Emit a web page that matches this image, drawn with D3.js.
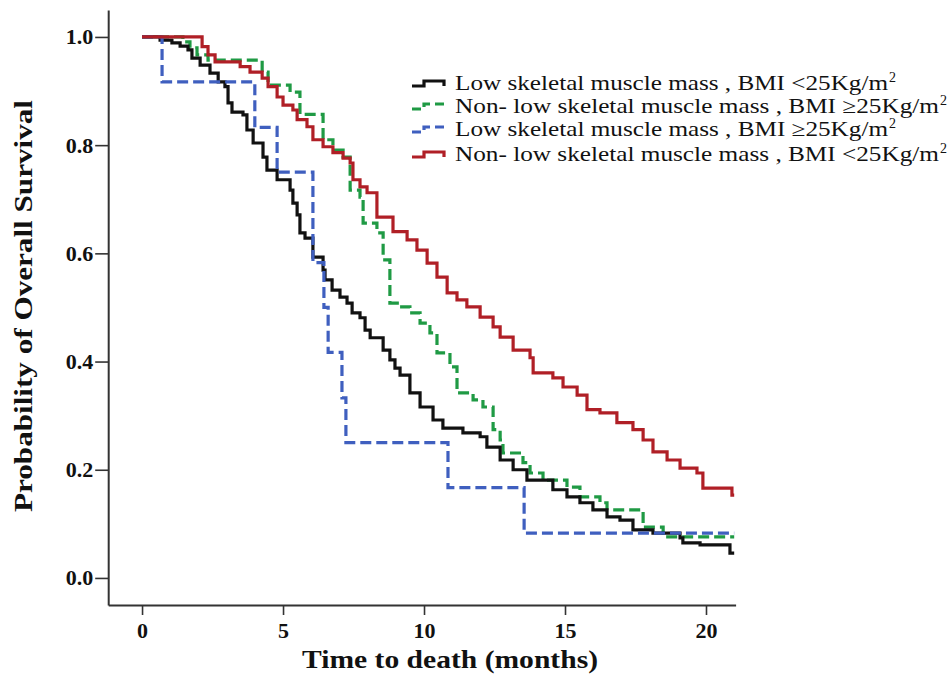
<!DOCTYPE html>
<html><head><meta charset="utf-8">
<script src="https://cdn.jsdelivr.net/npm/d3@7/dist/d3.min.js"></script>
<style>body{margin:0;background:#fff}</style>
</head><body>
<svg id="chart" width="948" height="675"></svg>
<script>
// ---------- data ----------
const xTicks = [0, 5, 10, 15, 20];
const yTicks = [0.0, 0.2, 0.4, 0.6, 0.8, 1.0];
const endTime = 21;

const seriesNames = [
  ["Low skeletal muscle mass , BMI <25Kg/m", "2"],
  ["Non- low skeletal muscle mass , BMI \u226525Kg/m", "2"],
  ["Low skeletal muscle mass , BMI \u226525Kg/m", "2"],
  ["Non- low skeletal muscle mass , BMI <25Kg/m", "2"]
];
const seriesColors = ["#111111", "#1f9a44", "#3f5fbf", "#b01f26"];
const seriesDashed = [false, true, true, false];

const blackTimes = [0.64,1.06,1.35,1.63,1.77,2.06,2.41,2.70,2.94,3.05,3.19,3.58,3.72,3.94,4.29,4.43,4.79,5.25,5.35,5.50,5.60,5.78,6.06,6.42,6.49,6.74,7.02,7.27,7.45,7.73,7.91,8.09,8.55,8.79,8.97,9.15,9.50,9.86,10.32,10.67,11.38,11.99,12.23,12.70,13.16,13.65,14.57,15.07,15.53,15.99,16.49,16.95,17.41,18.12,19.08,19.18,19.79,20.85];
const blackSurv  = [0.994,0.989,0.983,0.976,0.961,0.948,0.933,0.917,0.908,0.878,0.861,0.856,0.828,0.804,0.778,0.754,0.736,0.717,0.693,0.671,0.638,0.628,0.593,0.569,0.551,0.532,0.519,0.508,0.490,0.481,0.458,0.444,0.421,0.403,0.388,0.375,0.342,0.316,0.292,0.277,0.268,0.261,0.242,0.218,0.200,0.181,0.163,0.150,0.139,0.126,0.113,0.107,0.089,0.083,0.074,0.065,0.061,0.046];

const greenTimes = [1.45,1.70,1.95,2.34,4.26,4.47,5.25,5.60,6.42,6.77,7.13,7.38,7.73,7.84,8.33,8.55,8.79,9.15,9.50,9.86,10.21,10.46,10.92,11.17,11.74,12.09,12.45,12.70,12.80,13.51,13.76,14.22,15.07,15.53,16.24,16.49,17.77,18.48];
const greenSurv  = [0.991,0.980,0.967,0.957,0.935,0.911,0.898,0.857,0.810,0.791,0.778,0.717,0.704,0.656,0.638,0.588,0.508,0.501,0.490,0.471,0.453,0.416,0.390,0.342,0.329,0.316,0.274,0.255,0.231,0.213,0.194,0.181,0.168,0.150,0.139,0.126,0.094,0.076];

const blueTimes = [0.71,4.00,4.79,6.06,6.45,6.60,7.09,7.23,10.85,13.55];
const blueSurv  = [0.917,0.833,0.750,0.583,0.500,0.417,0.333,0.250,0.167,0.083];

const redTimes = [2.13,2.34,2.59,3.48,3.83,4.26,4.47,4.79,5.00,5.35,5.50,5.85,6.06,6.42,6.77,7.13,7.38,7.48,7.73,7.98,8.33,8.90,9.40,9.75,10.11,10.46,10.82,11.17,11.52,11.99,12.45,12.70,13.16,13.76,13.87,14.57,14.93,15.43,15.78,16.24,16.84,17.41,17.77,18.12,18.62,19.08,19.68,19.89,20.92];
const redSurv  = [0.982,0.967,0.954,0.945,0.935,0.924,0.908,0.889,0.874,0.865,0.847,0.834,0.810,0.797,0.786,0.776,0.767,0.736,0.723,0.712,0.667,0.640,0.625,0.606,0.582,0.556,0.527,0.514,0.501,0.482,0.464,0.445,0.421,0.407,0.379,0.370,0.353,0.338,0.311,0.305,0.287,0.274,0.255,0.233,0.218,0.203,0.194,0.166,0.153];

const xTitle = "Time to death (months)";
const yTitle = "Probability of Overall Survival";

// ---------- drawing ----------
const svg = d3.select("#chart");
const serif = "'Liberation Serif','Times New Roman',serif";

const x = d3.scaleLinear().domain([-1.2, 21.05]).range([108.2, 735.6]);
const y = d3.scaleLinear().domain([-0.05, 1.05]).range([605, 9.9]);

function buildSeries(times, surv) {
  const pts = [[0, 1]];
  times.forEach((t, i) => pts.push([t, surv[i]]));
  pts.push([endTime, surv[surv.length - 1]]);
  return pts;
}
const allSeries = [
  buildSeries(blackTimes, blackSurv),
  buildSeries(greenTimes, greenSurv),
  buildSeries(blueTimes, blueSurv),
  buildSeries(redTimes, redSurv)
];

// axes
const xAxis = d3.axisBottom(x).tickValues(xTicks).tickSize(10).tickSizeOuter(0).tickPadding(7).tickFormat(d3.format("d"));
const yAxis = d3.axisLeft(y).tickValues(yTicks).tickSize(13).tickSizeOuter(0).tickPadding(2).tickFormat(d3.format(".1f"));

const gx = svg.append("g").attr("transform", "translate(0,605)").call(xAxis);
const gy = svg.append("g").attr("transform", "translate(108.2,0)").call(yAxis);
[gx, gy].forEach(g => {
  g.select(".domain").attr("stroke", "#333").attr("stroke-width", 2);
  g.selectAll(".tick line").attr("stroke", "#333").attr("stroke-width", 1.6);
  g.selectAll(".tick text").attr("font-family", serif).attr("font-weight", "bold")
    .attr("font-size", 22).attr("fill", "#111");
});

// curves
const line = d3.line().x(d => x(d[0])).y(d => y(d[1])).curve(d3.curveStepAfter);
const order = [1, 0, 2, 3];
order.forEach(i => {
  svg.append("path").datum(allSeries[i])
    .attr("d", line)
    .attr("fill", "none")
    .attr("stroke", seriesColors[i])
    .attr("stroke-width", 3.2)
    .attr("stroke-linejoin", "miter")
    .attr("stroke-dasharray", seriesDashed[i] ? "11,5" : null);
});

// titles
svg.append("text").attr("x", 450).attr("y", 668).attr("text-anchor", "middle")
  .attr("font-family", serif).attr("font-weight", "bold").attr("font-size", 25)
  .attr("fill", "#111").attr("textLength", 296).attr("lengthAdjust", "spacingAndGlyphs")
  .text(xTitle);
svg.append("text").attr("transform", "translate(32,306) rotate(-90)").attr("text-anchor", "middle")
  .attr("font-family", serif).attr("font-weight", "bold").attr("font-size", 26)
  .attr("fill", "#111").attr("textLength", 412).attr("lengthAdjust", "spacingAndGlyphs")
  .text(yTitle);

// legend
const legendBaselines = [90, 113, 136, 161];
const legendWidths = [433, 484, 433, 484];
const lg = svg.append("g");
seriesNames.forEach((nm, i) => {
  const b = legendBaselines[i];
  lg.append("path")
    .attr("d", `M412,${b - 4} H424 V${b - 9} H444 V${b - 4}`)
    .attr("fill", "none").attr("stroke", seriesColors[i]).attr("stroke-width", 3.2)
    .attr("stroke-dasharray", seriesDashed[i] ? "9,5" : null);
  lg.append("text").attr("x", 455).attr("y", b)
    .attr("font-family", serif).attr("font-size", 21).attr("fill", "#111")
    .attr("textLength", legendWidths[i]).attr("lengthAdjust", "spacingAndGlyphs")
    .text(nm[0]);
  lg.append("text").attr("x", 455 + legendWidths[i] + 1).attr("y", b - 8)
    .attr("font-family", serif).attr("font-size", 14).attr("fill", "#111")
    .text(nm[1]);
});
</script>
</body></html>
